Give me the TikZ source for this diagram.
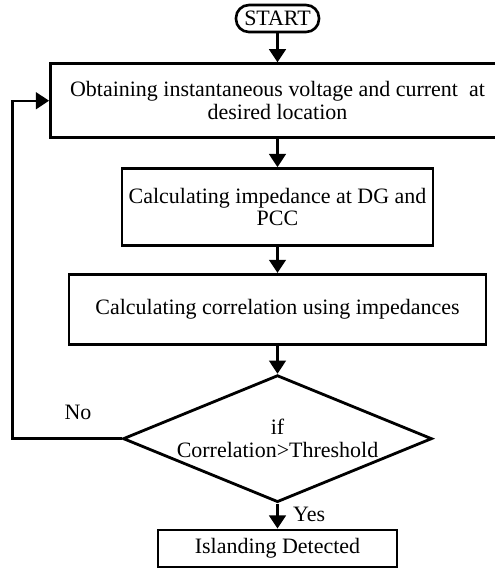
\documentclass[tikz,border=0pt]{standalone}
\usepackage{fontspec}
\setmainfont{Liberation Serif}
\usetikzlibrary{shapes.geometric, arrows.meta, positioning}
\tikzset{
    block/.style={draw, rectangle, line width=1.6pt, fill=white, align=center, inner sep=1pt, font=\fontsize{12.5}{13}\selectfont},
    terminal/.style={draw, rectangle, rounded corners=0.26cm, line width=1.5pt, minimum height=0.54cm, minimum width=1.66cm, inner sep=1pt, font=\fontsize{12.5}{13}\selectfont},
    decision/.style={draw, diamond, aspect=2.43, line width=1.6pt, minimum width=6.18cm, minimum height=2.54cm, inner sep=0pt, align=center, font=\fontsize{12.5}{13}\selectfont},
    arrow/.style={draw, -{Triangle[length=7.5pt, width=9.5pt]}, line width=1.4pt},
    lbl/.style={font=\fontsize{12.5}{13}\selectfont, inner sep=2pt}
}

\begin{document}
\begin{tikzpicture}[node distance=0.55cm]
    \useasboundingbox (-5.55,0.37) rectangle (4.35,-11.05);

    \node [terminal] (start) at (0,0) {START};
    \node [block, minimum width=9.08cm, minimum height=1.48cm, below=0.58cm of start] (obtain) {Obtaining instantaneous voltage and current~ at\\desired location};
    \node [block, minimum width=6.22cm, minimum height=1.54cm, below=0.56cm of obtain] (impedance) {Calculating impedance at DG and\\PCC};
    \node [block, minimum width=8.34cm, minimum height=1.40cm, below=0.52cm of impedance] (correlation) {Calculating correlation using impedances};
    \node [decision, below=0.56cm of correlation] (check) {if\\Correlation>Threshold};
    \node [block, minimum width=4.78cm, minimum height=0.74cm, below=0.50cm of check] (detect) {Islanding Detected};

    \draw [arrow] (start) -- (obtain);
    \draw [arrow] (obtain) -- (impedance);
    \draw [arrow] (impedance) -- (correlation);
    \draw [arrow] (correlation) -- (check);
    \draw [arrow] (check) -- node [lbl, right=0.22cm, pos=0.45] {Yes} (detect);
    \draw [arrow] (check.west) -- node [lbl, above=0.28cm, pos=0.4] {No} ++(-2.18,0) |- (obtain.west);
\end{tikzpicture}
\end{document}
